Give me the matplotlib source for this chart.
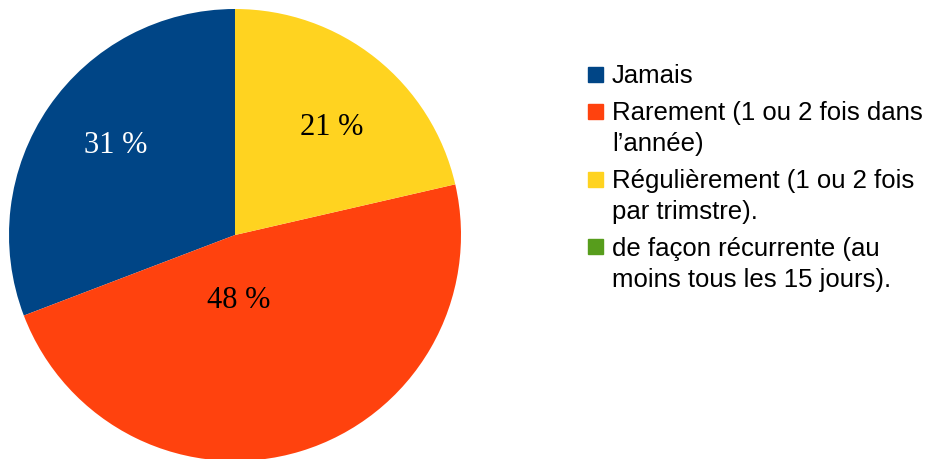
import matplotlib.pyplot as plt
from matplotlib.patches import Rectangle

labels = [
    "Jamais",
    "Rarement (1 ou 2 fois dans\nl\u2019année)",
    "Régulièrement (1 ou 2 fois\npar trimstre).",
    "de façon récurrente (au\nmoins tous les 15 jours).",
]
values = [30.8, 47.8, 21.4, 0]
colors = ["#004586", "#ff420e", "#ffd320", "#579d1c"]
label_colors = ["white", "black", "black", "black"]

W, H = 927, 459
fig = plt.figure(figsize=(W / 100, H / 100), dpi=100)

# pie: centre (235, 235) px, radius 226 px
cx, cy, r = 235, 235, 226
ax = fig.add_axes([(cx - r) / W, (H - cy - r) / H, 2 * r / W, 2 * r / H])
wedges, _, autotexts = ax.pie(
    values, colors=colors, startangle=90, counterclock=True,
    autopct=lambda p: f"{p:.0f} %" if p > 0 else "", pctdistance=0.66,
    wedgeprops=dict(linewidth=0),
    textprops=dict(family="Liberation Serif", fontsize=22),
)
for t, c in zip(autotexts, label_colors):
    t.set_color(c)
# LibreOffice label placement
label_pos = [(-0.53, 0.397), (0.018, -0.292), (0.428, 0.475)]
for t, p in zip(autotexts, label_pos):
    t.set_position(p)
ax.set_xlim(-1, 1)
ax.set_ylim(-1, 1)
ax.set_aspect("equal")

# legend drawn by hand so the swatch sits on the first line
y = 74
for lab, col in zip(labels, colors):
    fig.patches.append(Rectangle(((588) / W, 1 - (y + 7.5) / H), 15 / W, 15 / H,
                                 transform=fig.transFigure, color=col))
    for line in lab.split("\n"):
        fig.text(612 / W, 1 - (y + 9) / H, line, fontsize=18.5,
                 family="Liberation Sans", va="baseline", ha="left")
        y += 31
    y += 6

fig.savefig("out.png", dpi=100)
